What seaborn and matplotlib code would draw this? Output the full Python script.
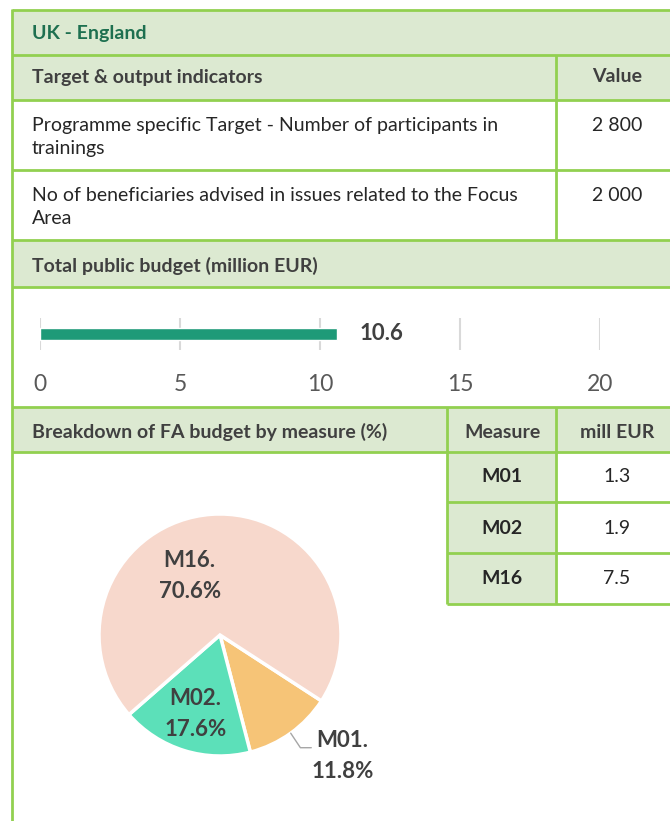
import numpy as np
import pandas as pd
import matplotlib.pyplot as plt
import seaborn as sns

# chart data
region = 'UK - England'
indicator_labels = ['Programme specific Target - Number of participants in\ntrainings',
                    'No of beneficiaries advised in issues related to the Focus\nArea']
indicator_values = ['2 800', '2 000']
budget_label = ['Total']
total_budget = [10.6]
budget_ticks = [0, 5, 10, 15, 20]
measures = ['M01', 'M02', 'M16']
measure_budget = [1.3, 1.9, 7.5]
measure_share = [11.8, 17.6, 70.6]
pie_colors = ['#f6c477', '#5ce0b9', '#f7d8cc']

sns.set_theme(style='white')
plt.rcParams['font.family'] = ['Lato', 'DejaVu Sans']

GREEN = '#92d050'
FILL = '#dce9d1'
DARK = '#404040'
FS = 14
W, H = 670, 821

fig = plt.figure(figsize=(W / 100, H / 100), dpi=100)
lay = fig.add_axes([0, 0, 1, 1])
lay.set_xlim(0, W)
lay.set_ylim(H, 0)
lay.axis('off')


def box(x0, x1, y0, y1):
    return [x0 / W, 1 - y1 / H, (x1 - x0) / W, (y1 - y0) / H]


def hline(y, x0=12, x1=W):
    lay.plot([x0, x1], [y, y], color=GREEN, lw=2, solid_capstyle='butt')


def vline(x, y0, y1):
    lay.plot([x, x], [y0, y1], color=GREEN, lw=2, solid_capstyle='butt')


# header fills
for y0, y1 in [(10, 55), (55, 100), (240, 287), (407, 452)]:
    lay.axhspan(y0, y1, xmin=12 / W, xmax=1, color=FILL, lw=0)
for y0, y1 in [(452, 502), (502, 553), (553, 604)]:
    lay.fill_between([447, 556], y0, y1, color=FILL, lw=0)

# grid of the table
for y in [10, 55, 100, 170, 240, 287, 407, 452]:
    hline(y)
for y in [502, 553, 604]:
    hline(y, 447)
vline(12, 9, H)
vline(556, 55, 240)
vline(447, 407, 604)
vline(556, 407, 604)

# texts of the table
lay.text(32, 33, region, fontsize=FS, fontweight='bold', color='#1e7050', va='center')
lay.text(32, 77, 'Target & output indicators', fontsize=FS, fontweight='bold', color=DARK, va='center')
lay.text(617, 77, 'Value', fontsize=FS, fontweight='bold', color=DARK, va='center', ha='center')
for i, (lab, val) in enumerate(zip(indicator_labels, indicator_values)):
    y = 117 + i * 70
    lay.text(32, y, lab, fontsize=FS, color='#262626', va='top', linespacing=1.45)
    lay.text(617, y, val, fontsize=FS, color='#262626', va='top', ha='center')
lay.text(32, 266, 'Total public budget (million EUR)', fontsize=FS, fontweight='bold', color=DARK, va='center')
lay.text(32, 432, 'Breakdown of FA budget by measure (%)', fontsize=FS, fontweight='bold', color=DARK, va='center')
lay.text(502, 432, 'Measure', fontsize=FS, fontweight='bold', color=DARK, va='center', ha='center')
lay.text(617, 432, 'mill EUR', fontsize=FS, fontweight='bold', color=DARK, va='center', ha='center')
for i, (m, v) in enumerate(zip(measures, measure_budget)):
    y = 477 + i * 51
    lay.text(502, y, m, fontsize=FS, fontweight='bold', color='#262626', va='center', ha='center')
    lay.text(617, y, f'{v:.1f}', fontsize=FS, color='#262626', va='center', ha='center')

# total budget bar
bax = fig.add_axes(box(40, 600, 318, 350))
sns.barplot(x=total_budget, y=budget_label, orient='h', color='#1e9a78',
            width=0.375, saturation=1, ax=bax)
bax.set_xlim(0, 20)
bax.set_ylim(0.5, -0.5)
bax.set_xticks(budget_ticks)
bax.set_yticks([])
bax.set_axisbelow(True)
bax.grid(axis='x', color='#d9d9d9', lw=1.5)
bax.grid(axis='y', visible=False)
bax.tick_params(axis='x', length=0, pad=17, labelsize=16.5, labelcolor='#595959')
bax.set_xlabel('')
bax.set_ylabel('')
bax.patch.set_alpha(0)
sns.despine(ax=bax, left=True, bottom=True)
bax.text(total_budget[0] + 0.8, 0, f'{total_budget[0]:.1f}', fontsize=16, fontweight='bold',
         color=DARK, va='center')

# breakdown pie
pax = fig.add_axes(box(99, 341, 514, 756))
wedges, _ = pax.pie(measure_share, colors=pie_colors, startangle=-33, counterclock=False,
                    radius=1, wedgeprops=dict(edgecolor='white', linewidth=2.5))
pax.set_xlim(-1, 1)
pax.set_ylim(-1, 1)
pax.set_aspect('equal')
pax.axis('off')

mids = [np.deg2rad((w.theta1 + w.theta2) / 2) for w in wedges]
lab_kw = dict(fontsize=16, fontweight='bold', color=DARK, ha='center', va='center',
              linespacing=1.6, clip_on=False)
# M01 outside with leader
a = mids[0]
p0 = (np.cos(a), np.sin(a))
pax.plot([p0[0], p0[0] + 0.08, p0[0] + 0.17], [p0[1], p0[1] - 0.12, p0[1] - 0.12],
         color='#a6a6a6', lw=1, clip_on=False)
pax.text(p0[0] + 0.43, p0[1] - 0.19, f'{measures[0]}.\n{measure_share[0]:.1f}%', **lab_kw)
# M02 inside
a = mids[1]
pax.text(0.68 * np.cos(a), 0.68 * np.sin(a), f'{measures[1]}.\n{measure_share[1]:.1f}%', **lab_kw)
# M16 inside, upper left
pax.text(-0.25, 0.49, f'{measures[2]}.\n{measure_share[2]:.1f}%', **lab_kw)

fig.savefig('out.png', dpi=100)
